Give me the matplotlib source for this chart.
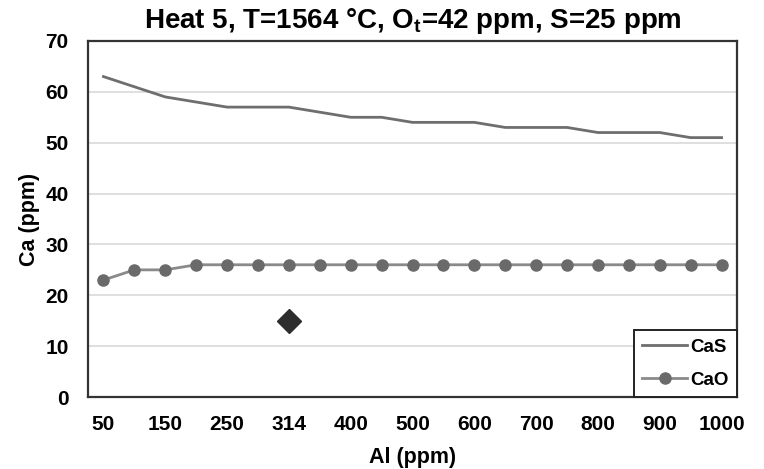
import matplotlib
matplotlib.use("Agg")
import matplotlib.pyplot as plt
import numpy as np

al_ppm = ["50", "100", "150", "200", "250", "300", "314", "350", "400", "450", "500",
          "550", "600", "650", "700", "750", "800", "850", "900", "950", "1000"]
cas = [63, 61, 59, 58, 57, 57, 57, 56, 55, 55, 54, 54, 54, 53, 53, 53, 52, 52, 52, 51, 51]
cao = [23, 25, 25, 26, 26, 26, 26, 26, 26, 26, 26, 26, 26, 26, 26, 26, 26, 26, 26, 26, 26]
measured_cat = "314"
measured_ca = 15
yticks = [0, 10, 20, 30, 40, 50, 60, 70]

plt.rcParams['font.family'] = ['Liberation Sans', 'DejaVu Sans']
plt.rcParams['font.weight'] = 'bold'
plt.rcParams['mathtext.fontset'] = 'custom'
plt.rcParams['mathtext.rm'] = 'Liberation Sans:bold'

fig = plt.figure(figsize=(7.64, 4.69), dpi=100)
ax = fig.add_axes([0.1152, 0.1535, 0.8495, 0.7591])

x = np.arange(len(al_ppm))
ax.plot(x, cas, color='#6e6e6e', lw=2.0, label='CaS', zorder=3)
ax.plot(x, cao, color='#8a8a8a', lw=2.0, marker='o', markersize=8,
        markerfacecolor='#6a6a6a', markeredgecolor='#6a6a6a', label='CaO', zorder=3)
ax.plot([al_ppm.index(measured_cat)], [measured_ca], marker='D', markersize=12,
        color='#2e2e2e', linestyle='none', zorder=4)

ax.set_xlim(-0.5, len(al_ppm) - 0.5)
ax.set_ylim(0, 70)
ax.set_yticks(yticks)
ax.set_xticks(x[::2])
ax.set_xticklabels(al_ppm[::2])
ax.tick_params(axis='both', length=0, labelsize=15)
ax.tick_params(axis='x', pad=13)
ax.tick_params(axis='y', pad=14)
for lbl in ax.get_xticklabels() + ax.get_yticklabels():
    lbl.set_fontweight('bold')
ax.yaxis.grid(True, color='#d9d9d9', lw=1.2)
ax.set_axisbelow(True)
for s in ax.spines.values():
    s.set_color('#333333')
    s.set_linewidth(1.6)

ax.set_xlabel('Al (ppm)', fontsize=15.5, fontweight='bold', labelpad=9)
ax.set_ylabel('Ca (ppm)', fontsize=15.5, fontweight='bold', labelpad=4)
ax.set_title(r'Heat 5, T=1564 °C, O$_\mathrm{t}$=42 ppm, S=25 ppm', fontsize=20,
             fontweight='bold', pad=9)

leg = ax.legend(loc='lower right', borderaxespad=0, fancybox=False, framealpha=1,
                edgecolor='#222222', prop={'size': 13.5, 'weight': 'bold'},
                handlelength=2.4, handletextpad=0.15, labelspacing=0.85,
                borderpad=0.45)
leg.get_frame().set_linewidth(1.4)

fig.savefig('out.png', dpi=100)
